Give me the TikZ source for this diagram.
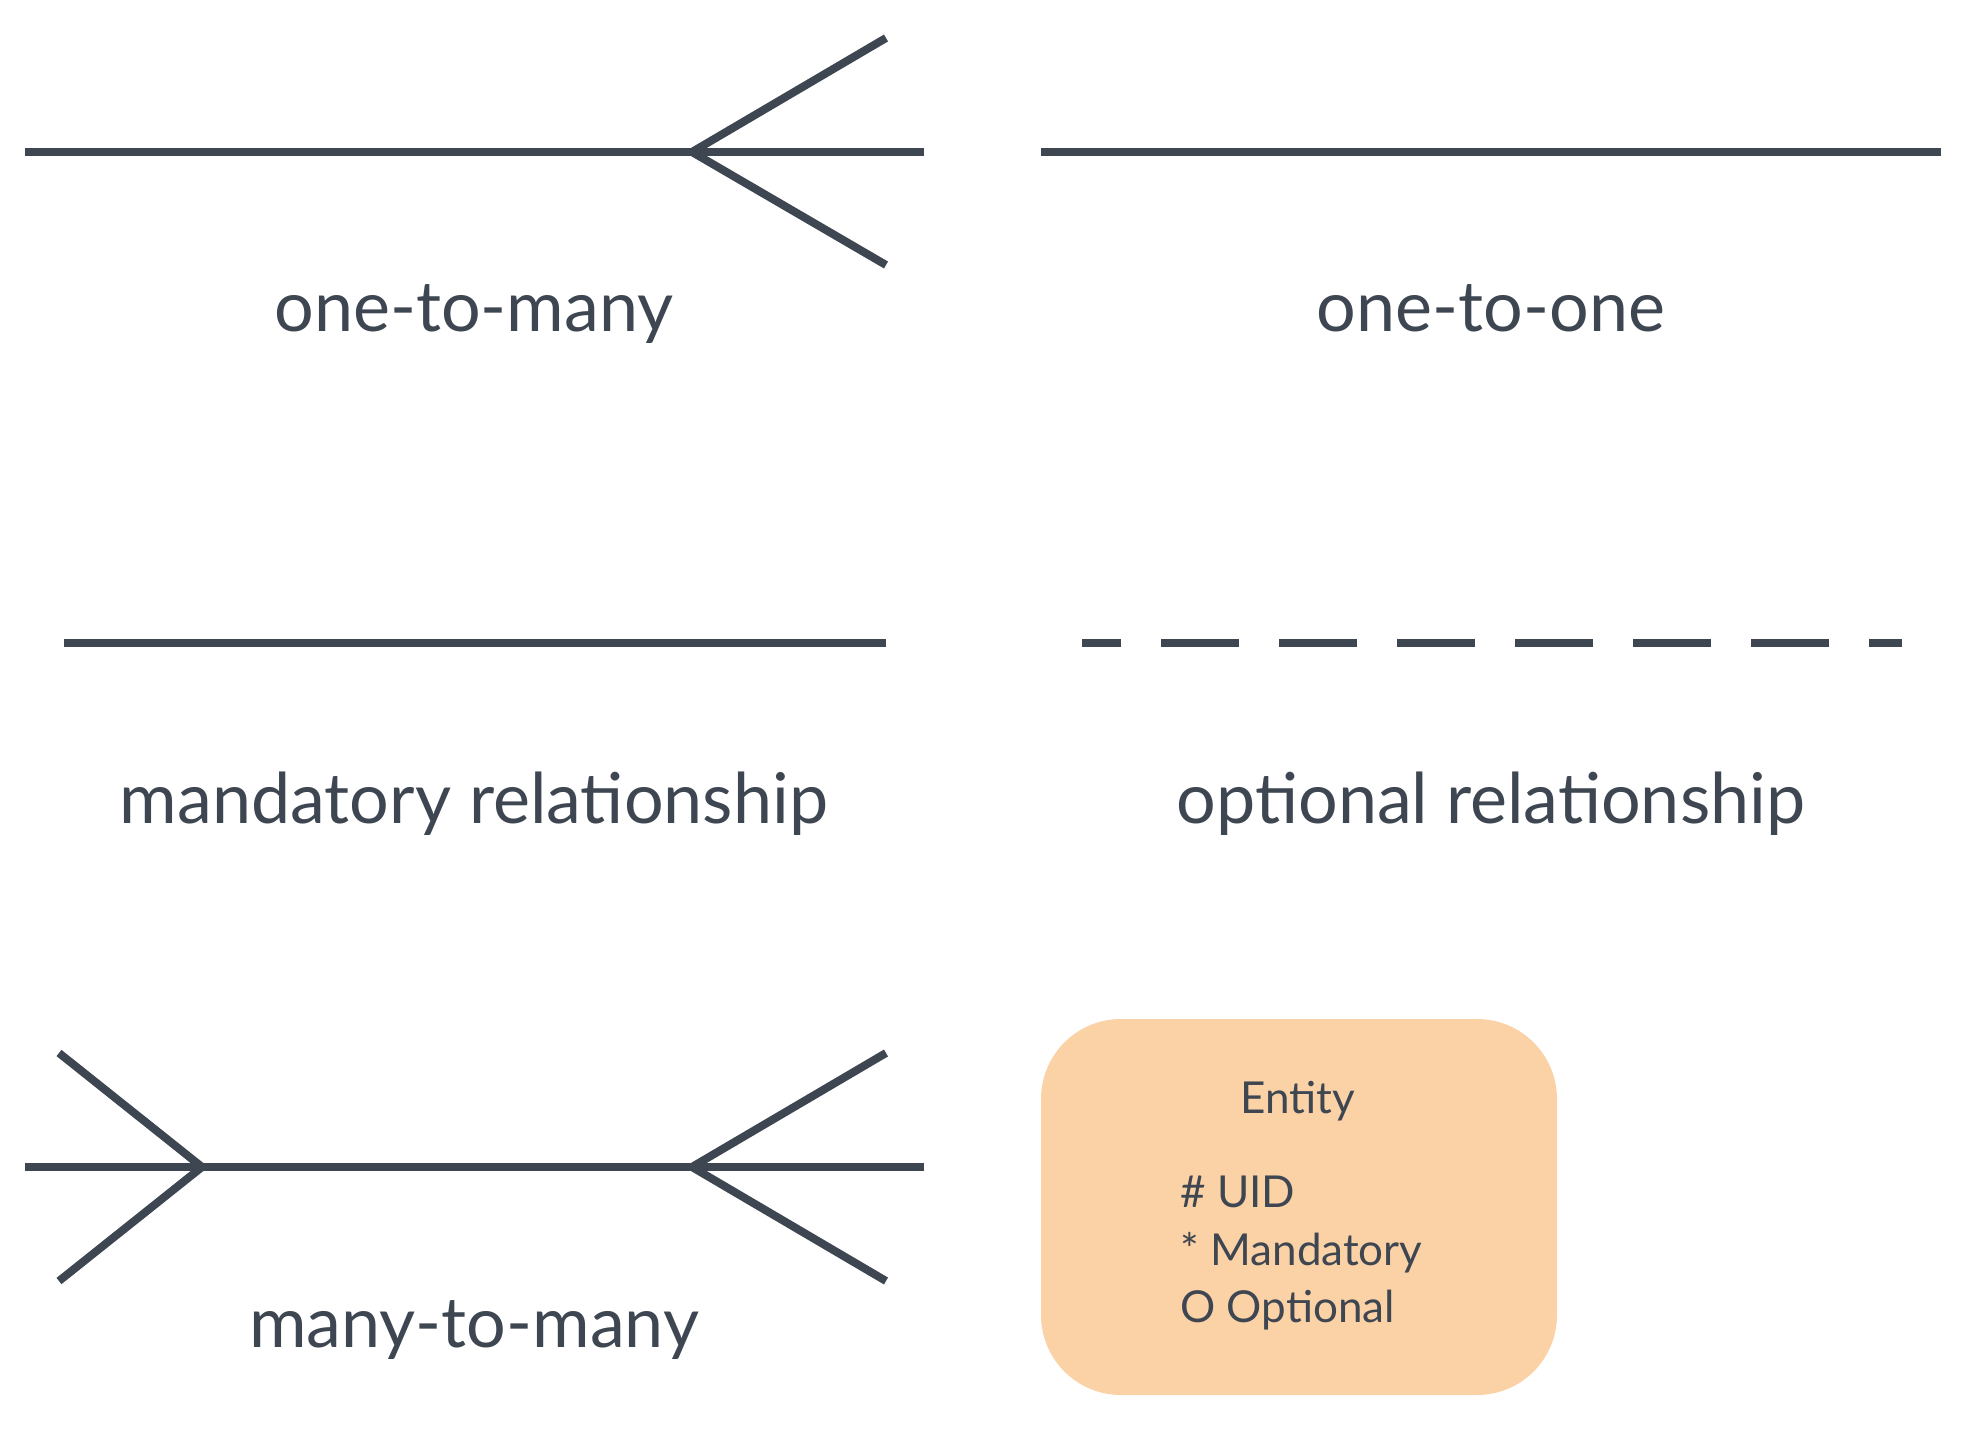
\documentclass[tikz,border=0pt]{standalone}
\usepackage{fontspec}
\setmainfont{Lato}
\definecolor{ink}{HTML}{3E4651}
\definecolor{peach}{HTML}{FBD1A6}
\begin{document}
\begin{tikzpicture}[x=0.5pt,y=-0.5pt,
  rel/.style={draw=ink, line width=4pt},
  optrel/.style={draw=ink, line width=4pt, dash pattern=on 39pt off 20pt, dash phase=19.5pt},
  lbl/.style={text=ink, anchor=base, inner sep=0pt, font=\fontsize{35}{42}\selectfont},
  etxt/.style={text=ink, anchor=base west, inner sep=0pt, font=\fontsize{22}{26}\selectfont},
  entbox/.style={fill=peach, draw=none, rounded corners=40pt}]
\useasboundingbox (0,0) rectangle (1966,1444);
% one-to-many
\coordinate (a1) at (25,152);
\coordinate (a2) at (924,152);
\coordinate (aj) at (692,152);
\coordinate (at) at (886,38);
\coordinate (ab) at (886,265);
\draw[rel] (a1) -- (a2);
\draw[rel, line join=miter] (at) -- (aj) -- (ab);
\node[lbl] (l1) at (474,332) {one-to-many};
% one-to-one
\coordinate (b1) at (1041,152);
\coordinate (b2) at (1941,152);
\draw[rel] (b1) -- (b2);
\node[lbl] (l2) at (1491,332) {one-to-one};
% mandatory
\coordinate (c1) at (64,643);
\coordinate (c2) at (886,643);
\draw[rel] (c1) -- (c2);
\node[lbl] (l3) at (474,823) {mandatory relationship};
% optional
\coordinate (d1) at (1082,643);
\coordinate (d2) at (1902,643);
\draw[optrel] (d1) -- (d2);
\node[lbl] (l4) at (1491,823) {optional relationship};
% many-to-many
\coordinate (e1) at (25,1167);
\coordinate (e2) at (924,1167);
\coordinate (ejl) at (202,1167);
\coordinate (ejr) at (692,1167);
\coordinate (etl) at (59,1053);
\coordinate (ebl) at (59,1281);
\coordinate (etr) at (886,1053);
\coordinate (ebr) at (886,1281);
\draw[rel] (e1) -- (e2);
\draw[rel, line join=miter] (etl) -- (ejl) -- (ebl);
\draw[rel, line join=miter] (etr) -- (ejr) -- (ebr);
\node[lbl] (l5) at (474,1347) {many-to-many};
% entity
\path[entbox] (1041,1019) rectangle (1557,1395);
\node[text=ink, anchor=base, inner sep=0pt, font=\fontsize{22}{26}\selectfont] (ent) at (1298,1113) {Entity};
\node[etxt] (uid) at (1180,1207) {\# UID};
\node[etxt] (man) at (1180,1265) {* Mandatory};
\node[etxt] (opt) at (1180,1322) {O Optional};
\end{tikzpicture}
\end{document}
